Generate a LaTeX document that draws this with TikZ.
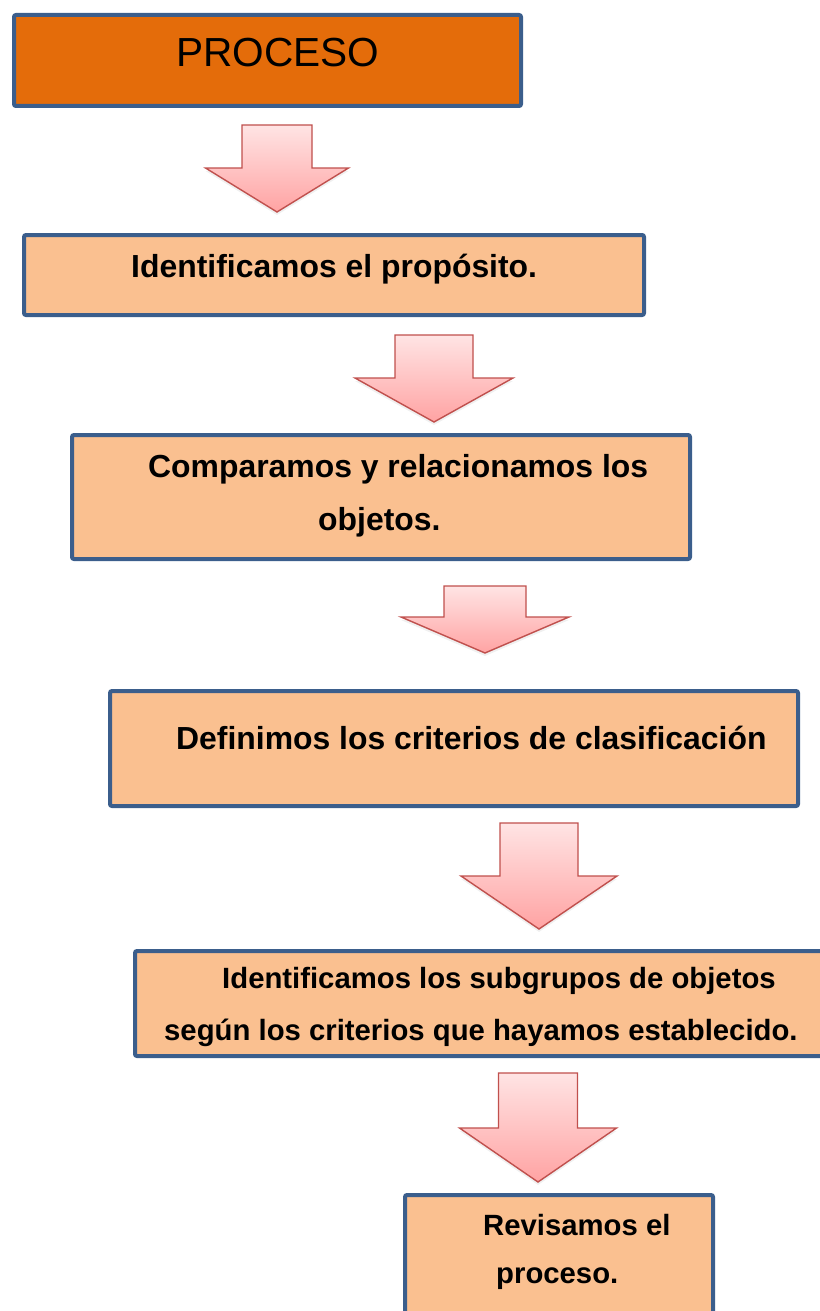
\documentclass[tikz,border=0pt]{standalone}
\usepackage{fontspec}
\setmainfont{Liberation Sans}
\usepackage{xcolor}
\usepackage{tikz}
\usetikzlibrary{shadows}

\definecolor{naranja}{HTML}{E46C0A}
\definecolor{durazno}{HTML}{FAC090}
\definecolor{bordeazul}{HTML}{3B5E8C}
\definecolor{rojoborde}{HTML}{C0504D}
\definecolor{rosaclaro}{HTML}{FFE4E4}
\definecolor{rosaoscuro}{HTML}{FFA3A3}

\tikzset{
  caja/.style={draw=bordeazul, line width=4pt, rounded corners=2pt, fill=durazno, inner sep=0pt},
  flecha/.style={draw=rojoborde, line width=1.4pt, line join=miter, top color=rosaclaro, bottom color=rosaoscuro,
    drop shadow={opacity=0.12, shadow xshift=0pt, shadow yshift=-3pt}},
  texto/.style={anchor=base west, inner sep=0pt, font=\bfseries\fontsize{31.9}{38}\selectfont},
  textochico/.style={anchor=base west, inner sep=0pt, font=\bfseries\fontsize{29.3}{35}\selectfont}
}

% flecha hacia abajo: centro x, arriba, medio tallo, y alas, media ala, punta
\newcommand{\flechabaja}[6]{%
  \path[flecha] (#1-#3,#2) -- (#1+#3,#2) -- (#1+#3,#4) -- (#1+#5,#4) -- (#1,#6)
    -- (#1-#5,#4) -- (#1-#3,#4) -- cycle;}

\begin{document}
\begin{tikzpicture}[x=1pt, y=-1pt]
  \useasboundingbox (0,0) rectangle (819,1311);
  % ---------- PROCESO ----------
  \node[caja, fill=naranja, minimum width=507pt, minimum height=91pt] (b1) at (267.5,60.5) {};
  \node[anchor=base west, inner sep=0pt, font=\fontsize{40.6}{48}\selectfont] (t1) at (176,67) {PROCESO};
  \flechabaja{277}{125}{35}{168}{71.5}{212}
  % ---------- paso 1 ----------
  \node[caja, minimum width=620pt, minimum height=80pt] (b2) at (334,275) {};
  \node[texto] (t2) at (131,277) {Identificamos el propósito.};
  \flechabaja{434}{335}{39}{378}{79}{422}
  % ---------- paso 2 ----------
  \node[caja, minimum width=618pt, minimum height=124pt] (b3) at (381,497) {};
  \node[texto] (t3a) at (148,477) {Comparamos y relacionamos los};
  \node[texto] (t3b) at (318,530) {objetos.};
  \flechabaja{485}{586}{41}{617}{84}{653}
  % ---------- paso 3 ----------
  \node[caja, minimum width=688pt, minimum height=115pt] (b4) at (454,748.5) {};
  \node[texto] (t4) at (176,749) {Definimos los criterios de clasificación};
  \flechabaja{539}{823}{39}{876}{78}{929}
  % ---------- paso 4 ----------
  \node[caja, minimum width=700pt, minimum height=105pt] (b5) at (485,1003.5) {};
  \node[textochico] (t5a) at (222,988) {Identificamos los subgrupos de objetos};
  \node[textochico] (t5b) at (164,1040) {según los criterios que hayamos establecido.};
  \flechabaja{538}{1073}{39.5}{1128}{78.5}{1182}
  % ---------- paso 5 ----------
  \node[caja, minimum width=308pt, minimum height=125pt] (b6) at (559,1257.5) {};
  \node[textochico] (t6a) at (483,1235) {Revisamos el};
  \node[textochico] (t6b) at (496,1283) {proceso.};
\end{tikzpicture}
\end{document}
